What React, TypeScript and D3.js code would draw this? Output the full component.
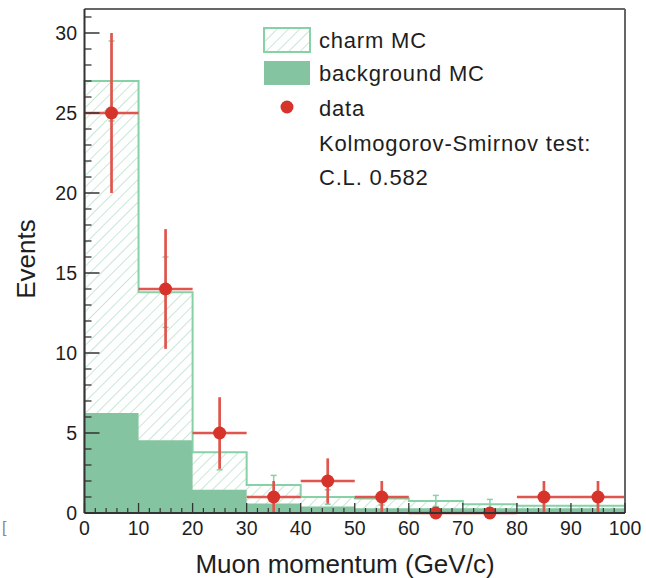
import React from "react";
import * as d3 from "d3";

const binEdges = [0, 10, 20, 30, 40, 50, 60, 70, 80, 90, 100];
const backgroundMC = [6.25, 4.55, 1.45, 0.6, 0.4, 0.3, 0.3, 0.3, 0.3, 0.3];
const totalMC = [27.0, 13.8, 3.8, 1.75, 1.0, 0.9, 0.75, 0.55, 0.45, 0.45];
const mcErr = [2.5, 2.2, 1.1, 0.6, 0.45, 0.4, 0.35, 0.3, 0.25, 0.25];
const dataCounts = [25, 14, 5, 1, 2, 1, 0, 0, 1, 1];
const yMajorTicks = [0, 5, 10, 15, 20, 25, 30];
const xMajorTicks = [0, 10, 20, 30, 40, 50, 60, 70, 80, 90, 100];
const legendLabels = ["charm MC", "background MC", "data", "Kolmogorov-Smirnov test:", "C.L. 0.582"];

const W = 646;
const H = 578;
const FONT = "'Liberation Sans', Arial, Helvetica, sans-serif";

export default function App() {
  const x = d3.scaleLinear().domain([0, 100]).range([84.5, 625]);
  const y = d3.scaleLinear().domain([0, 31.5]).range([513, 9]);

  const bins = d3.range(binEdges.length - 1).map((i) => ({
    x0: binEdges[i],
    x1: binEdges[i + 1],
    xc: (binEdges[i] + binEdges[i + 1]) / 2,
    bg: backgroundMC[i],
    tot: totalMC[i],
    err: mcErr[i],
    d: dataCounts[i],
  }));

  const stepPts: [number, number][] = [];
  bins.forEach((b, i) => {
    if (i === 0) stepPts.push([x(b.x0), y(0)]);
    stepPts.push([x(b.x0), y(b.tot)]);
    stepPts.push([x(b.x1), y(b.tot)]);
  });
  stepPts.push([x(100), y(0)]);
  const line = d3.line();

  const bgArea: [number, number][] = [];
  bins.forEach((b, i) => {
    if (i === 0) bgArea.push([x(b.x0), y(0)]);
    bgArea.push([x(b.x0), y(b.bg)]);
    bgArea.push([x(b.x1), y(b.bg)]);
  });
  bgArea.push([x(100), y(0)]);

  const minorY = d3.range(0, 32, 1).filter((v) => v % 5 !== 0);
  const minorX = d3.range(0, 101, 2).filter((v) => v % 10 !== 0);

  const green = "#86d1a6";
  const bgFill = "#84c4a0";
  const red = "#d6332b";
  const redBar = "#e0554d";

  return (
    <svg width={W} height={H} style={{ display: "block", position: "absolute", left: 0, top: 0, background: "#fff" }}>
      <defs>
        <pattern id="hatch" patternUnits="userSpaceOnUse" width="8" height="8" patternTransform="rotate(45)">
          <line x1="0" y1="0" x2="0" y2="8" stroke="#a9dbbd" strokeWidth="1.3" />
        </pattern>
      </defs>

      {bins.map((b, i) => (
        <rect key={"h" + i} x={x(b.x0)} y={y(b.tot)} width={x(b.x1) - x(b.x0)} height={y(0) - y(b.tot)} fill="url(#hatch)" />
      ))}
      <path d={line(bgArea) || ""} fill={bgFill} stroke="none" />
      <path d={line(stepPts) || ""} fill="none" stroke={green} strokeWidth={2} />
      {bins.map((b, i) => (
        <g key={"e" + i} stroke={green} strokeWidth={1.5}>
          <line x1={x(b.xc)} x2={x(b.xc)} y1={y(b.tot - b.err)} y2={y(b.tot + b.err)} />
          <line x1={x(b.xc) - 3} x2={x(b.xc) + 3} y1={y(b.tot + b.err)} y2={y(b.tot + b.err)} />
          <line x1={x(b.xc) - 3} x2={x(b.xc) + 3} y1={y(b.tot - b.err)} y2={y(b.tot - b.err)} />
        </g>
      ))}

      {bins.map((b, i) => {
        const e = Math.sqrt(b.d);
        return (
          <g key={"d" + i}>
            <line x1={x(b.x0)} x2={x(b.x1)} y1={y(b.d)} y2={y(b.d)} stroke={redBar} strokeWidth={2.7} />
            {b.d > 0 && (
              <line x1={x(b.xc)} x2={x(b.xc)} y1={y(b.d + e)} y2={y(Math.max(0, b.d - e))} stroke={redBar} strokeWidth={2.7} />
            )}
            <circle cx={x(b.xc)} cy={y(b.d)} r={6.5} fill={red} />
          </g>
        );
      })}

      <line x1={x(0)} x2={x(100)} y1={9} y2={9} stroke="#666" strokeWidth={2} />
      <line x1={x(100)} x2={x(100)} y1={9} y2={y(0)} stroke="#666" strokeWidth={2} />
      <line x1={x(0)} x2={x(0)} y1={9} y2={y(0)} stroke="#333" strokeWidth={2} />
      <line x1={x(0)} x2={x(100)} y1={y(0)} y2={y(0)} stroke="#333" strokeWidth={2} />

      {yMajorTicks.map((t) => (
        <g key={"ym" + t}>
          <line x1={x(0)} x2={x(0) + 15} y1={y(t)} y2={y(t)} stroke="#333" strokeWidth={1.5} />
          <text x={77} y={y(t)} dy="0.36em" textAnchor="end" fontFamily={FONT} fontSize={19.5} fill="#1e1e1e">
            {t}
          </text>
        </g>
      ))}
      {minorY.map((t) => (
        <line key={"yn" + t} x1={x(0)} x2={x(0) + 7} y1={y(t)} y2={y(t)} stroke="#333" strokeWidth={1.3} />
      ))}
      {xMajorTicks.map((t) => (
        <g key={"xm" + t}>
          <line x1={x(t)} x2={x(t)} y1={y(0)} y2={y(0) - 10} stroke="#333" strokeWidth={1.3} />
          <text x={x(t)} y={535} textAnchor="middle" fontFamily={FONT} fontSize={19.5} fill="#1e1e1e">
            {t}
          </text>
        </g>
      ))}
      {minorX.map((t) => (
        <line key={"xn" + t} x1={x(t)} x2={x(t)} y1={y(0)} y2={y(0) - 5} stroke="#333" strokeWidth={1.2} />
      ))}

      <text x={345} y={573} textAnchor="middle" fontFamily={FONT} fontSize={26} fill="#1e1e1e">
        Muon momentum (GeV/c)
      </text>
      <text transform="translate(35,259) rotate(-90)" textAnchor="middle" fontFamily={FONT} fontSize={26} fill="#1e1e1e">
        Events
      </text>

      <rect x={264} y={28} width={46} height={24} fill="url(#hatch)" stroke={green} strokeWidth={2} />
      <rect x={264} y={61} width={46} height={24} fill={bgFill} />
      <circle cx={287} cy={107} r={6.5} fill={red} />
      {legendLabels.map((l, i) => (
        <text key={l} x={319} y={[40, 73, 108, 143, 177][i]} dy="0.36em" fontFamily={FONT} fontSize={22} letterSpacing={0.8} fill="#1e1e1e">
          {l}
        </text>
      ))}

      <text x={2} y={533} fontFamily={FONT} fontSize={16} fill="#888">
        [
      </text>
    </svg>
  );
}
